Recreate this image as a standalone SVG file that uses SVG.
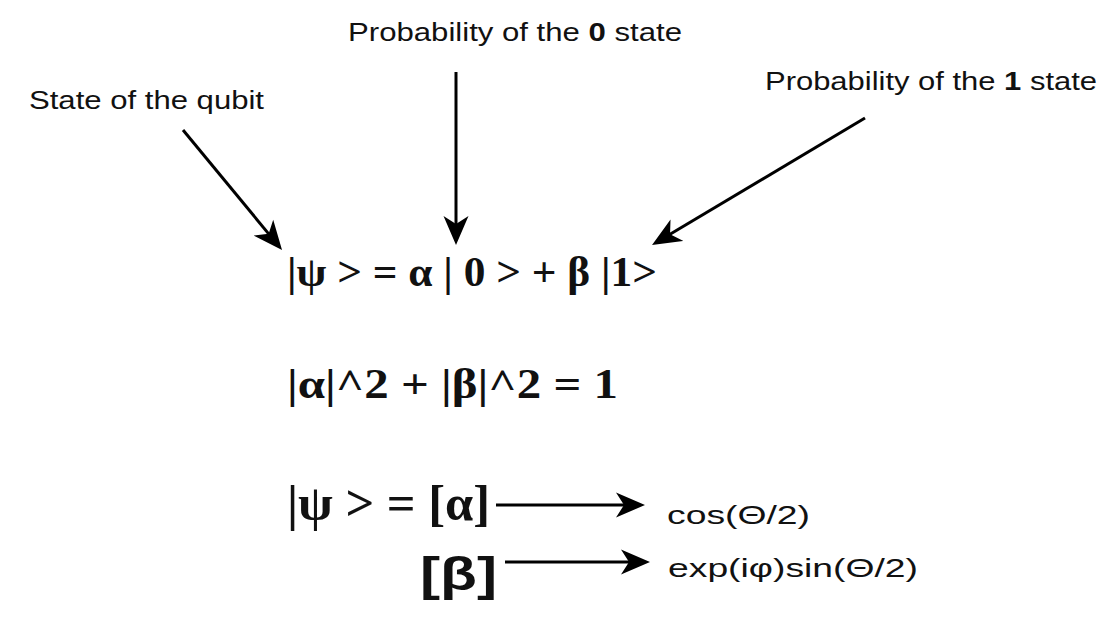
<svg xmlns="http://www.w3.org/2000/svg" width="1107" height="623" viewBox="0 0 1107 623">
<style>
.lbl{font-family:"Liberation Sans",Arial,sans-serif;font-size:26px;fill:#111}
.math{font-family:"Liberation Serif","Times New Roman",serif;font-weight:bold;fill:#111}
.sans{font-family:"Liberation Sans",Arial,sans-serif;fill:#111}
.conn{stroke:#000;stroke-width:3;fill:none;marker-end:url(#ah)}
</style>
<defs>
<marker id="ah" markerUnits="userSpaceOnUse" viewBox="0 -13 30 26" markerWidth="30" markerHeight="26" refX="9" refY="0" orient="auto">
<path d="M29,0 L0,-12.5 L8,0 L0,12.5 Z" fill="#000"/>
</marker>
</defs>
<rect width="1107" height="623" fill="#fff"/>
<g id="label-state"><text class="lbl" x="29" y="109" textLength="235" lengthAdjust="spacingAndGlyphs">State of the qubit</text></g>
<g id="label-p0"><text class="lbl" x="348" y="41" textLength="334" lengthAdjust="spacingAndGlyphs">Probability of the <tspan font-weight="bold">0</tspan> state</text></g>
<g id="label-p1"><text class="lbl" x="765" y="90" textLength="332" lengthAdjust="spacingAndGlyphs">Probability of the <tspan font-weight="bold">1</tspan> state</text></g>
<g id="eq1"><text class="math" x="287" y="286" font-size="43" textLength="370" lengthAdjust="spacingAndGlyphs">|ψ &gt; = α | 0 &gt; + β |1&gt;</text></g>
<g id="eq2"><text class="math" x="287" y="398" font-size="42" textLength="331" lengthAdjust="spacingAndGlyphs">|α|^2 + |β|^2 = 1</text></g>
<g id="eq3"><text class="math" x="287" y="520" font-size="50" textLength="203" lengthAdjust="spacingAndGlyphs">|ψ &gt; = [α]</text></g>
<g id="eq4"><text class="sans" font-weight="bold" x="420" y="590" font-size="46" textLength="77" lengthAdjust="spacingAndGlyphs">[β]</text></g>
<g id="cos"><text class="lbl" x="667" y="524" font-size="32" textLength="143" lengthAdjust="spacingAndGlyphs">cos(Θ/2)</text></g>
<g id="exp"><text class="lbl" x="668" y="577" font-size="32" textLength="250" lengthAdjust="spacingAndGlyphs">exp(iφ)sin(Θ/2)</text></g>
<g id="connectors">
<path class="conn" d="M183,130 L269.3,234.6"/>
<path class="conn" d="M456,72 L456,225"/>
<path class="conn" d="M865,118 L669.2,234.8"/>
<path class="conn" d="M496,505 L625,505"/>
<path class="conn" d="M505,562 L630,562"/>
</g>
</svg>
